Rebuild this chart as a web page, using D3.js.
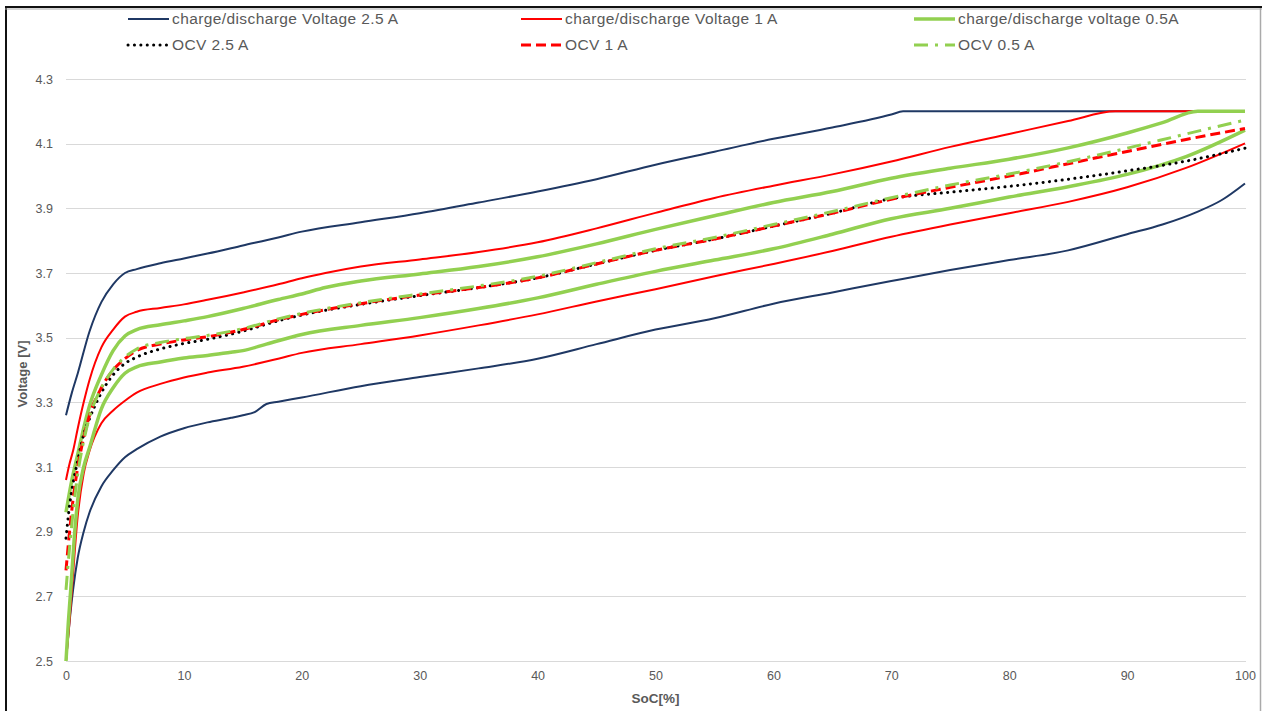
<!DOCTYPE html>
<html><head><meta charset="utf-8">
<script src="https://cdn.jsdelivr.net/npm/d3@7"></script>
<style>
html,body{margin:0;padding:0;background:#fff;}
svg{display:block;font-family:"Liberation Sans",Arial,sans-serif;}
</style></head>
<body><svg id="c" width="1263" height="711"></svg>
<script>
// ---- data ----
const xTicks = [0,10,20,30,40,50,60,70,80,90,100];
const yTicks = [2.5,2.7,2.9,3.1,3.3,3.5,3.7,3.9,4.1,4.3];

// 2.5 A charge / discharge
const soc_chg25 = [0,0.5,1,2,3,4,5,6,8,10,12,15,18,20,25,30,35,40,45,50,55,60,65,70,71,80,90,100];
const v_chg25   = [3.26,3.33,3.39,3.52,3.61,3.665,3.70,3.712,3.73,3.745,3.76,3.785,3.81,3.828,3.857,3.885,3.918,3.952,3.99,4.035,4.075,4.115,4.15,4.19,4.2,4.2,4.2,4.2];
const soc_dis25 = [0,0.3,0.6,1,1.5,2,3,4,5,6,8,10,12,14,15,16,17,18,20,25,30,35,40,45,50,55,60,65,70,75,80,85,90,93,96,98,100];
const v_dis25   = [2.5,2.62,2.72,2.82,2.9,2.96,3.04,3.09,3.13,3.155,3.194,3.22,3.238,3.252,3.26,3.27,3.295,3.302,3.315,3.35,3.378,3.405,3.435,3.48,3.525,3.56,3.605,3.64,3.675,3.709,3.74,3.77,3.82,3.85,3.89,3.925,3.977];

// 1 A charge / discharge
const soc_chg1 = [0,0.3,0.6,1,1.5,2,3,4,5,6,8,10,12,15,18,20,22,25,30,35,40,45,50,55,60,65,70,75,80,85,89,100];
const v_chg1   = [3.06,3.11,3.15,3.22,3.3,3.37,3.47,3.525,3.565,3.58,3.592,3.603,3.617,3.64,3.665,3.684,3.7,3.72,3.742,3.765,3.795,3.838,3.886,3.932,3.97,4.005,4.045,4.09,4.13,4.17,4.2,4.2];
const soc_dis1 = [0,0.25,0.5,1,1.5,2,3,4,5,6,8,10,12,15,18,20,25,30,35,40,45,50,55,60,65,70,75,80,85,90,95,100];
const v_dis1   = [2.5,2.6,2.72,2.95,3.08,3.15,3.235,3.275,3.305,3.33,3.357,3.377,3.392,3.41,3.435,3.453,3.48,3.507,3.538,3.572,3.612,3.65,3.69,3.728,3.768,3.812,3.85,3.885,3.92,3.965,4.025,4.101];

// 0.5 A charge / discharge
const soc_chg05 = [0,0.5,1,1.5,2,3,4,5,6,8,10,12,15,18,20,22,25,30,35,40,45,50,55,60,65,70,75,80,85,90,93,96,100];
const v_chg05   = [2.96,3.06,3.14,3.22,3.29,3.385,3.46,3.505,3.525,3.54,3.552,3.565,3.59,3.618,3.635,3.655,3.675,3.697,3.72,3.75,3.79,3.835,3.877,3.918,3.952,3.993,4.024,4.052,4.087,4.133,4.165,4.2,4.2];
const soc_dis05 = [0,0.2,0.4,0.7,1,1.5,2,3,4,5,6,8,10,12,14,15,17,20,25,30,35,40,45,50,55,60,65,70,75,80,85,90,95,100];
const v_dis05   = [2.5,2.62,2.72,2.88,3.0,3.1,3.16,3.28,3.345,3.39,3.41,3.425,3.437,3.445,3.455,3.46,3.48,3.51,3.538,3.562,3.59,3.623,3.665,3.705,3.74,3.775,3.82,3.868,3.9,3.935,3.967,4.005,4.06,4.142];

// OCV curves
const soc_ocv = [0,0.3,0.6,1,1.5,2,3,4,5,6,8,10,12,15,18,20,25,30,35,40,45,50,55,60,65,70,75,80,85,90,95,100];
const v_ocv25 = [2.88,2.98,3.05,3.12,3.2,3.25,3.33,3.385,3.42,3.44,3.465,3.482,3.495,3.52,3.552,3.57,3.603,3.63,3.655,3.685,3.728,3.77,3.805,3.845,3.885,3.93,3.95,3.968,3.99,4.016,4.046,4.086];
const v_ocv1  = [2.78,2.9,3.0,3.1,3.19,3.26,3.345,3.4,3.435,3.46,3.48,3.493,3.503,3.525,3.555,3.572,3.605,3.632,3.655,3.685,3.728,3.77,3.805,3.845,3.885,3.928,3.965,4.0,4.038,4.076,4.113,4.147];
const v_ocv05 = [2.72,2.85,2.96,3.08,3.18,3.255,3.345,3.402,3.44,3.465,3.485,3.497,3.507,3.528,3.558,3.575,3.608,3.635,3.66,3.69,3.732,3.775,3.81,3.85,3.89,3.933,3.972,4.006,4.044,4.086,4.13,4.173];

const seriesNames = ["charge/discharge Voltage 2.5 A","charge/discharge Voltage 1 A","charge/discharge voltage 0.5A","OCV 2.5 A","OCV 1 A","OCV 0.5 A"];

// ---- styles ----
const styles = [
  {color:"#1f3864", w:2,   dash:null, cap:"butt"},
  {color:"#ff0000", w:2,   dash:null, cap:"butt"},
  {color:"#92d050", w:3.5, dash:null, cap:"butt"},
  {color:"#000000", w:3,   dash:"0.1,6.3", cap:"round"},
  {color:"#ff0000", w:3,   dash:"10,5", cap:"butt"},
  {color:"#92d050", w:3,   dash:"14,7,3,7", cap:"butt"}
];

const zip = (a,b)=>a.map((s,i)=>[s,b[i]]);
const series = [
  [zip(soc_dis25,v_dis25), zip(soc_chg25,v_chg25)],
  [zip(soc_dis1,v_dis1), zip(soc_chg1,v_chg1)],
  [zip(soc_dis05,v_dis05), zip(soc_chg05,v_chg05)],
  [zip(soc_ocv,v_ocv25)],
  [zip(soc_ocv,v_ocv1)],
  [zip(soc_ocv,v_ocv05)]
];

const svg = d3.select("#c");
const L=66, R=1245, T=79, B=661;
const x = d3.scaleLinear().domain([0,100]).range([L,R]);
const y = d3.scaleLinear().domain([2.5,4.3]).range([B,T]);

// border
svg.append("rect").attr("x",0).attr("y",0).attr("width",1263).attr("height",711).attr("fill","#fff");
svg.append("line").attr("x1",6).attr("x2",6).attr("y1",7).attr("y2",711).attr("stroke","#111").attr("stroke-width",2);
svg.append("line").attr("x1",5).attr("x2",1262).attr("y1",7).attr("y2",7).attr("stroke","#111").attr("stroke-width",2);
svg.append("line").attr("x1",5).attr("x2",1262).attr("y1",9).attr("y2",9).attr("stroke","#aaa").attr("stroke-width",1);
svg.append("line").attr("x1",1260.5).attr("x2",1260.5).attr("y1",8).attr("y2",711).attr("stroke","#aaa").attr("stroke-width",1.5);

// grid
svg.append("g").selectAll("line").data(yTicks).join("line")
  .attr("x1",L).attr("x2",R+1).attr("y1",d=>Math.round(y(d))+0.5).attr("y2",d=>Math.round(y(d))+0.5)
  .attr("stroke","#d9d9d9").attr("stroke-width",1);

// axes
const yAxis = d3.axisLeft(y).tickValues(yTicks).tickFormat(d3.format(".1f")).tickSize(0).tickPadding(13);
const gy = svg.append("g").attr("transform",`translate(${L},0)`).call(yAxis);
gy.select(".domain").remove();
gy.selectAll("text").attr("fill","#595959").style("font-size","12.5px").style("font-family","Liberation Sans, Arial, sans-serif");

const xAxis = d3.axisBottom(x).tickValues(xTicks).tickSize(0).tickPadding(10);
const gx = svg.append("g").attr("transform",`translate(0,${B})`).call(xAxis);
gx.select(".domain").remove();
gx.selectAll("text").attr("fill","#595959").style("font-size","12.5px").style("font-family","Liberation Sans, Arial, sans-serif");

// axis titles
svg.append("text").attr("x",(L+R)/2).attr("y",703).attr("text-anchor","middle")
  .attr("fill","#595959").style("font-size","13.5px").style("font-weight","bold").text("SoC[%]");
svg.append("text").attr("transform",`translate(27,374) rotate(-90)`).attr("text-anchor","middle")
  .attr("fill","#595959").style("font-size","13px").style("font-weight","bold").text("Voltage [V]");

// lines
const line = d3.line().x(d=>x(d[0])).y(d=>y(d[1])).curve(d3.curveMonotoneX);
const gl = svg.append("g");
series.forEach((segs,i)=>{
  const st = styles[i];
  segs.forEach(seg=>{
    gl.append("path").attr("d",line(seg)).attr("fill","none")
      .attr("stroke",st.color).attr("stroke-width",st.w)
      .attr("stroke-linecap",st.cap).attr("stroke-linejoin","round")
      .attr("stroke-dasharray",st.dash);
  });
});

// legend
const legX = [128,521,914], legY=[19,45];
seriesNames.forEach((name,i)=>{
  const st = styles[i];
  const lx = legX[i%3], ly = legY[Math.floor(i/3)];
  svg.append("line").attr("x1",lx).attr("x2",lx+41).attr("y1",ly).attr("y2",ly)
    .attr("stroke",st.color).attr("stroke-width",st.w).attr("stroke-linecap",st.cap)
    .attr("stroke-dasharray",st.dash);
  svg.append("text").attr("x",lx+44).attr("y",ly).attr("dy","0.35em")
    .attr("fill","#595959").style("font-size","15.5px").style("letter-spacing","0.4px").text(name);
});
</script></body></html>
